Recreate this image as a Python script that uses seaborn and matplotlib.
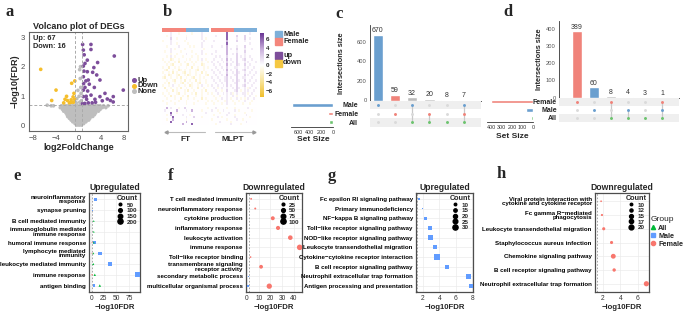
import numpy as np
import pandas as pd
import matplotlib
matplotlib.use('Agg')
import matplotlib.pyplot as plt
import seaborn as sns
from matplotlib.colors import LinearSegmentedColormap, ListedColormap, Normalize
from matplotlib.cm import ScalarMappable
from matplotlib.lines import Line2D
from matplotlib.patches import Rectangle

sns.set_theme(style='white')
plt.rcParams['font.family'] = ['Liberation Sans', 'DejaVu Sans']
plt.rcParams['axes.unicode_minus'] = True

# ---------------- data ----------------
# a: volcano
up_x = [0.73, 2.19, 0.85, 2.19, 3.36, 6.29, 1.14, 1.55, 2.49, 0.85, 3.77, 1.72, 1.90, 1.14, 2.78,
        1.61, 7.87, 4.65, 3.77, 5.06, 6.11, 2.89, 1.43, 1.72, 4.18, 0.85, 0.85, 0.90, 6.10, 5.60,
        2.20, 1.30, 0.85, 1.55, 1.00, 2.70, 3.20, 0.70, 1.10, 2.40, 3.00, 0.95, 1.35]
up_y = [2.75, 2.75, 2.56, 2.58, 2.14, 2.36, 2.11, 1.83, 1.81, 1.66, 1.55, 1.55, 1.41, 1.30, 1.30,
        1.18, 1.21, 1.10, 0.99, 0.91, 0.99, 0.90, 0.90, 0.78, 0.85, 0.99, 1.21, 1.43, 0.81, 0.86,
        1.04, 1.52, 2.02, 2.22, 2.40, 1.97, 1.72, 0.75, 0.76, 0.78, 0.80, 1.85, 1.00]
down_x = [-6.64, -1.20, -0.65, -3.95, -4.71, -2.37, -2.10, -1.95, -1.30, -0.95, -1.25, -0.90,
          -0.70, -1.60, -0.80, -2.60]
down_y = [1.91, 1.44, 1.52, 1.21, 0.86, 0.90, 1.00, 0.86, 0.88, 0.98, 0.80, 0.80, 0.90, 0.78,
          1.10, 0.78]
none_levels = [0.68, 0.62, 0.56, 0.50, 0.44, 0.38, 0.32, 0.26, 0.20, 0.14, 0.08, 0.03]
none_rows = [
    [-4.8, -4.4, -3.0, -2.6, -2.2, -1.8, -1.4, -1.0, -0.6, -0.2, 0.2, 0.6, 1.0, 1.4, 1.8, 2.2, 2.6, 3.0, 3.4, 3.8, 4.4, 5.2],
    [-3.2, -2.8, -2.4, -2.0, -1.6, -1.2, -0.8, -0.4, 0.0, 0.4, 0.8, 1.2, 1.6, 2.0, 2.4, 2.8, 3.2, 3.6, 4.2, 4.8],
    [-2.8, -2.4, -2.0, -1.6, -1.2, -0.8, -0.4, 0.0, 0.4, 0.8, 1.2, 1.6, 2.0, 2.4, 2.8, 3.2, 3.8],
    [-2.6, -2.2, -1.8, -1.4, -1.0, -0.6, -0.2, 0.2, 0.6, 1.0, 1.4, 1.8, 2.2, 2.6, 3.0, 3.5],
    [-2.2, -1.8, -1.4, -1.0, -0.6, -0.2, 0.2, 0.6, 1.0, 1.4, 1.8, 2.2, 2.6, 3.0],
    [-2.0, -1.6, -1.2, -0.8, -0.4, 0.0, 0.4, 0.8, 1.2, 1.6, 2.0, 2.4, 2.8],
    [-1.9, -1.5, -1.1, -0.7, -0.3, 0.1, 0.5, 0.9, 1.3, 1.7, 2.1, 2.5],
    [-1.6, -1.2, -0.8, -0.4, 0.0, 0.4, 0.8, 1.2, 1.6, 2.0],
    [-1.3, -0.9, -0.5, -0.1, 0.3, 0.7, 1.1, 1.5, 1.8],
    [-1.0, -0.6, -0.2, 0.2, 0.6, 1.0, 1.3],
    [-0.6, -0.2, 0.2, 0.6, 0.9],
    [-0.3, 0.1, 0.5],
]
none_extra_x = [0.30, 0.20, 0.40, 0.45, 0.10, -0.30, 0.50, 0.20, -0.40, 0.35, -5.5, -0.1]
none_extra_y = [1.60, 1.90, 1.30, 1.10, 1.00, 0.92, 0.85, 0.80, 0.78, 2.00, 0.70, 1.2]

# b: heatmap (character-coded values)
heat_codes = {'.': 0, 'a': -0.8, 'b': -1.8, 'c': -3.0, 'd': 0.9, 'e': 2.0, 'f': 3.5, 'g': 6.0}
ft_top = [
    "....d...a......a....d...", "..a.d.......a.......d...", "....e..a....d.......d.a.",
    "a...d......a.........d..", "....d..a.....a......d...", "..a.....d.....a.a...d...",
    "....d.a....a.........a..", ".a..d....a.....a....d...", "....a..a....d....a..d.a.",
    "..a.d.a...a....a..a.....", "a...ba..a...a.a...a.d.a.", ".a.a..a.b..a...a.a..a..a",
    "..a.ab...a..ab..a...ba..", "a..b..a.a...a..b..a..a.a", ".ab..a..ba.a..a..ab..a..",
    "a..a.b.a..ab..a..a..b.a.", ".a.ba..ab..a.ba..a.a..ab", "ab..a..a.b..a..ab..a.a..",
    "..a..ab..a.b..a..b.a..a.", ".a.b..a..ab..a.a..ab..a.", "a..a.d..a..a..ba..a.d..a",
    ".b..a..a.b..a..a..b..a..", "..a..b.a...a.b..a...a.b.", "a..a...ab..a...a.b..a..a",
    ".a..b.a...a..b...a..a...", "..a...a..b...a..a...b.a.", "a...a...a...a.....a....a",
    "..a...a.....a...a.....a.",
]
mlpt_top = [
    "........g...........d...", "..d.....g....e...e......", "........g....d...e..d...",
    ".d......f....e...d......", "........g...........d...", "d....d..f....d...e......",
    "........f.d..e...d...d..", "..d.....f....d...e......", "d.......f..d.e...d......",
    "..d.d...e....e.d.d..d...", ".d...d..f.d..e..de...d..", "d..d..d.e..d.e...d.d...d",
    ".d..d...f.d..ed..e..d...", "..d..d..e...dd...d.d..d.", "d..d..d.f.d..e..de...d..",
    ".d..d...e..d.ed..d..d..d", "..d..d..f...de...e.d..d.", "d..d...de.d..e..dd...d..",
    ".d..d..de..d.ed..e..d..d", "..d..d..e...de...d.d..d.", "d..d..d.e.d..e..de...d..",
    ".d.a.d..d..d.ed..d.ad..d", "..d..a..e...de.a.d.d..d.", "a..d..d.d.da.d..dd.a.d..",
    ".a..a...d..d.a...d..d..a", "..a..d..d.a..d.a.a.d..d.", "a..a...ad..a..a..d...a..",
    ".a...a..d...a...a...a...",
]
ft_bottom = [
    "..f.d...a..e...........a", ".d.....f....d..f....a...", "....g..a..............d.",
    "..a.f.....d...a.........", ".....g......d...e...a...", "..a..f......a...........",
    "....g.......f...........", "..........f....g........",
]
mlpt_bottom = [
    "..d.....a...a......d....", "d..a..d.....d.a......a..", "....a....d.......a......",
    ".a......d...a.....d.....", "...d.a......d.......a...", "a.......a....d..a.......",
    "....d.....a.......d.....", "..a.......d....a........",
]
heat_sex = ['Female'] * 12 + ['Male'] * 12

# c, d: UpSet
c_sets = ['Male', 'Female', 'All']
c_members = [['Male'], ['Female'], ['Male', 'All'], ['Female', 'All'], ['All'], ['Male', 'Female', 'All']]
c_sizes = [670, 59, 32, 20, 8, 7]
d_sets = ['Female', 'Male', 'All']
d_members = [['Female'], ['Male'], ['Female', 'All'], ['Male', 'All'], ['All'], ['Female', 'Male', 'All']]
d_sizes = [389, 60, 8, 4, 3, 1]

# e-h: enrichment dot plots
e_terms = ["neuroinflammatory\nresponse", "synapse pruning", "B cell mediated immunity",
           "immunoglobulin mediated\nimmune response", "humoral immune response",
           "lymphocyte mediated\nimmunity", "leukocyte mediated immunity", "immune response",
           "antigen binding"]
e_term_idx = [0, 1, 2, 3, 4, 4, 4, 5, 5, 5, 6, 6, 7, 7, 7, 8, 8]
e_group = ['Male', 'Male', 'All', 'All', 'Male', 'All', 'Female', 'Male', 'All', 'Female', 'Male',
           'All', 'Male', 'All', 'Female', 'Male', 'All']
e_fdr = [9, 2, 5, 5, 7, 5, 1.5, 17, 4, 1.5, 37, 4, 92, 7, 1.5, 5, 17]
e_count = [50, 10, 20, 20, 60, 25, 5, 90, 25, 5, 120, 30, 200, 40, 10, 40, 45]

f_terms = ["T cell mediated immunity", "neuroinflammatory response", "cytokine production",
           "inflammatory response", "leukocyte activation", "immune response",
           "Toll\u2212like receptor binding", "transmembrane signaling\nreceptor activity",
           "secondary metabolic process", "multicellular organismal process"]
f_term_idx = [0, 1, 2, 3, 4, 5, 6, 7, 8, 9, 9]
f_group = ['Female'] * 8 + ['Male', 'Female', 'Male']
f_fdr = [3.5, 7, 22, 26.5, 37, 45, 3, 12, 1, 19, 1]
f_count = [10, 12, 55, 60, 75, 110, 8, 50, 5, 100, 20]

g_terms = ["Fc epsilon RI signaling pathway", "Primary immunodeficiency",
           "NF\u2212kappa B signaling pathway", "Toll\u2212like receptor signaling pathway",
           "NOD\u2212like receptor signaling pathway", "Leukocyte transendothelial migration",
           "Cytokine\u2212cytokine receptor interaction", "B cell receptor signaling pathway",
           "Neutrophil extracellular trap formation", "Antigen processing and presentation"]
g_term_idx = list(range(10))
g_group = ['Male'] * 10
g_fdr = [1.5, 1.95, 2.3, 2.9, 2.9, 3.5, 3.7, 4.9, 7.5, 7.9]
g_count = [10, 6, 15, 18, 22, 18, 30, 16, 28, 22]

h_terms = ["Viral protein interaction with\ncytokine and cytokine receptor",
           "Fc gamma R\u2212mediated\nphagocytosis", "Leukocyte transendothelial migration",
           "Staphylococcus aureus infection", "Chemokine signaling pathway",
           "B cell receptor signaling pathway", "Neutrophil extracellular trap formation"]
h_term_idx = list(range(7))
h_group = ['Female'] * 7
h_fdr = [1.8, 1.9, 2.1, 3.0, 3.2, 3.3, 7.0]
h_count = [8, 9, 12, 12, 20, 13, 22]

# ---------------- styling ----------------
W, H = 685, 311
fig = plt.figure(figsize=(W / 100, H / 100), dpi=100)

C_UP, C_DOWN, C_NONE = '#7D4E9B', '#F5BE2C', '#BEBEBE'
C_FEM_ANN, C_MALE_ANN = '#F4867C', '#7DAFD9'
U_BLUE, U_SALMON, U_GREEN, U_GRAY = '#6A9FCF', '#F0837A', '#6CC36E', '#BDBDBD'
G_COLORS = {'All': '#00BA38', 'Male': '#619CFF', 'Female': '#F8766D'}
G_MARKERS = {'All': '^', 'Male': 's', 'Female': 'o'}


def ax_px(x0, y0, x1, y1):
    return fig.add_axes([x0 / W, 1 - y1 / H, (x1 - x0) / W, (y1 - y0) / H])


def ftext(x, y, s, **kw):
    fig.text(x / W, 1 - y / H, s, **kw)


for lab, (x, y) in zip('abcdefgh', [(5, 12), (163, 12), (335, 14), (503, 12),
                                     (13, 176), (168, 176), (328, 176), (497, 174)]):
    ftext(x, y, lab, fontsize=12, fontweight='bold', family='Liberation Serif', va='center')

# ---------------- a: volcano ----------------
nx, ny = [], []
for lv, row in zip(none_levels, none_rows):
    nx += row
    ny += [lv] * len(row)
nx += none_extra_x
ny += none_extra_y
vdf = pd.concat([
    pd.DataFrame({'lfc': nx, 'fdr': ny, 'Sig': 'None'}),
    pd.DataFrame({'lfc': down_x, 'fdr': down_y, 'Sig': 'Down'}),
    pd.DataFrame({'lfc': up_x, 'fdr': up_y, 'Sig': 'Up'}),
], ignore_index=True)
axa = ax_px(29, 32, 128, 131)
sns.scatterplot(data=vdf, x='lfc', y='fdr', hue='Sig',
                palette={'Up': C_UP, 'Down': C_DOWN, 'None': C_NONE},
                s=7, linewidth=0, legend=False, ax=axa)
axa.axhline(0.699, color='#AAAAAA', ls=(0, (3, 2)), lw=0.7)
axa.axvline(-0.585, color='#AAAAAA', ls=(0, (3, 2)), lw=0.7)
axa.axvline(0.585, color='#AAAAAA', ls=(0, (3, 2)), lw=0.7)
axa.set_xlim(-8.7, 8.7)
axa.set_ylim(-0.17, 3.17)
axa.set_xticks([-8, -4, 0, 4, 8])
axa.set_yticks([0, 1, 2, 3])
axa.tick_params(labelsize=5.5, length=2, pad=1, colors='#4D4D4D', width=0.6)
for s in axa.spines.values():
    s.set_color('#666666'); s.set_linewidth(0.8)
axa.set_xlabel('log2FoldChange', fontsize=6.5, fontweight='bold', labelpad=0.5)
axa.set_ylabel('\u2212log10(FDR)', fontsize=6.5, fontweight='bold', labelpad=1)
axa.set_title('Volcano plot of DEGs', fontsize=6.5, fontweight='bold', pad=2.5)
axa.text(0.04, 0.93, 'Up: 67', transform=axa.transAxes, fontsize=5.3, fontweight='bold', va='center')
axa.text(0.04, 0.85, 'Down: 16', transform=axa.transAxes, fontsize=5.3, fontweight='bold', va='center')
for i, (lab, col) in enumerate([('Up', C_UP), ('Down', C_DOWN), ('None', C_NONE)]):
    yy = 80 + i * 5.6
    fig.add_artist(Line2D([134 / W], [1 - yy / H], marker='o', color=col, ms=2.6, lw=0))
    ftext(138, yy, lab, fontsize=5.5, fontweight='bold', va='center')

# ---------------- b: heatmap ----------------
cmap_h = LinearSegmentedColormap.from_list('yp', ['#F0BE2A', '#F8E49A', '#FFFFFF', '#C9AEDB', '#6A3594'])


def decode(rows):
    return pd.DataFrame([[heat_codes[ch] for ch in r.ljust(24, '.')[:24]] for r in rows])


for mat, rect in [(ft_top, (162, 32, 209, 105)), (mlpt_top, (211, 32, 257, 105)),
                  (ft_bottom, (162, 107, 209, 125)), (mlpt_bottom, (211, 107, 257, 125))]:
    axh = ax_px(*rect)
    sns.heatmap(decode(mat), cmap=cmap_h, vmin=-7.5, vmax=7.5, cbar=False,
                xticklabels=False, yticklabels=False, ax=axh)
for rect in [(162, 28, 209, 32), (211, 28, 257, 32)]:
    axn = ax_px(*rect)
    codes = pd.DataFrame([[0 if s == 'Female' else 1 for s in heat_sex]])
    sns.heatmap(codes, cmap=ListedColormap([C_FEM_ANN, C_MALE_ANN]), vmin=0, vmax=1,
                cbar=False, xticklabels=False, yticklabels=False, ax=axn)
cax = ax_px(260, 33, 264, 97)
cb = fig.colorbar(ScalarMappable(norm=Normalize(-7.5, 7.5), cmap=cmap_h), cax=cax)
cb.set_ticks([6, 4, 2, 0, -2, -4, -6])
cb.ax.tick_params(labelsize=4.5, length=0, pad=1.5)
cb.set_ticklabels(['6', '4', '2', '0', '\u22122', '\u22124', '\u22126'], fontweight='bold')
cb.outline.set_visible(False)
for yy, lab, col in [(34, 'Male', C_MALE_ANN), (41.5, 'Female', C_FEM_ANN),
                     (55.5, 'up', '#7D4E9B'), (63, 'down', '#F5C842')]:
    fig.add_artist(Rectangle((275 / W, 1 - (yy + 3.5) / H), 6.5 / W, 7 / H, color=col))
    ftext(283, yy, lab, fontsize=5.3, fontweight='bold', va='center')
fig.add_artist(Line2D([166 / W, 205 / W], [1 - 132 / H] * 2, color='#BBBBBB', lw=0.8))
fig.add_artist(Line2D([166 / W], [1 - 132 / H], marker='<', color='#999999', ms=2.2, lw=0))
fig.add_artist(Line2D([215 / W, 254 / W], [1 - 132 / H] * 2, color='#BBBBBB', lw=0.8))
fig.add_artist(Line2D([254 / W], [1 - 132 / H], marker='>', color='#999999', ms=2.2, lw=0))
ftext(186, 140, 'FT', fontsize=6, fontweight='bold', ha='center', va='center')
ftext(233, 140, 'MLPT', fontsize=6, fontweight='bold', ha='center', va='center')


# ---------------- c, d: UpSet ----------------
def upset(sets, members, sizes, set_cols, bar_cols, bar_rect, mat_rect, ss_rect, xlim,
          ylim, yticks, ss_max, ss_ticks, label_pad, ylabel_x, setsize_xy):
    n = len(sizes)
    keys = [f'i{i}' for i in range(n)]
    axb = ax_px(*bar_rect)
    sns.barplot(x=keys, y=sizes, hue=keys, palette=dict(zip(keys, bar_cols)), order=keys,
                width=0.6, legend=False, ax=axb, saturation=1)
    for cont in axb.containers:
        axb.bar_label(cont, fontsize=5, padding=0.3, color='#333333')
    axb.set_xlim(*xlim)
    axb.set_ylim(0, ylim)
    axb.set_yticks(yticks)
    axb.set_xticks([])
    axb.tick_params(axis='y', labelsize=4.2, length=1.5, pad=1, colors='#555555', width=0.5)
    sns.despine(ax=axb)
    for s in ['left', 'bottom']:
        axb.spines[s].set_color('#333333'); axb.spines[s].set_linewidth(0.6)
    axb.set_ylabel('Intersections size', fontsize=5.3, fontweight='bold')
    axb.yaxis.set_label_coords((ylabel_x - bar_rect[0]) / (bar_rect[2] - bar_rect[0]), 0.5)

    axm = ax_px(*mat_rect)
    axm.set_xlim(*xlim)
    axm.set_ylim(len(sets) - 0.5, -0.5)
    for j in range(len(sets)):
        if j % 2 == 0:
            axm.axhspan(j - 0.5, j + 0.5, color='#EFEFEF', lw=0, zorder=0)
    colmap = dict(zip(sets, set_cols))
    for i, mem in enumerate(members):
        rows = [sets.index(m) for m in mem]
        if len(rows) > 1:
            axm.plot([i, i], [min(rows), max(rows)], color='#C8C8C8', lw=0.9, zorder=1)
        for j, st in enumerate(sets):
            axm.scatter([i], [j], s=4.5, color=colmap[st] if st in mem else '#DADADA',
                        lw=0, zorder=2)
    axm.set_xticks([])
    axm.set_yticks(range(len(sets)))
    axm.set_yticklabels(sets, fontsize=5.0, fontweight='bold')
    axm.tick_params(axis='y', length=0, pad=label_pad)
    for s in axm.spines.values():
        s.set_visible(False)

    set_sizes = [sum(sz for sz, mem in zip(sizes, members) if st in mem) for st in sets]
    axs = ax_px(*ss_rect)
    sns.barplot(x=set_sizes, y=sets, hue=sets, palette=colmap, order=sets, orient='h',
                width=0.45, legend=False, ax=axs, saturation=1)
    axs.set_xlim(ss_max, 0)
    axs.set_ylim(len(sets) - 0.5, -0.5)
    axs.set_xticks(ss_ticks)
    axs.set_yticks([])
    axs.set_ylabel('')
    axs.tick_params(axis='x', labelsize=3.9, length=1.5, pad=1, colors='#333333', width=0.5)
    sns.despine(ax=axs, left=True)
    axs.spines['bottom'].set_color('#333333'); axs.spines['bottom'].set_linewidth(0.6)
    ftext(setsize_xy[0], setsize_xy[1], 'Set Size', fontsize=6, fontweight='bold',
          ha='center', va='center')


upset(c_sets, c_members, c_sizes, [U_BLUE, U_SALMON, U_GREEN],
      [U_BLUE, U_SALMON, U_GRAY, U_GRAY, U_GREEN, U_GRAY],
      (370, 25, 481, 100.5), (370, 100.5, 481, 126.5), (291, 100.5, 333, 126.5),
      (-0.45, 6.0), 770, [0, 200, 400, 600], 720, [600, 400, 200, 0], 8.5, 345, (313, 140))
upset(d_sets, d_members, d_sizes, [U_SALMON, U_BLUE, U_GREEN],
      [U_SALMON, U_BLUE, U_GRAY, U_GRAY, U_GREEN, U_GRAY],
      (559, 21, 679, 97.5), (559, 97.5, 679, 122), (487, 97.5, 533, 122),
      (-1.04, 6.0), 447, [0, 100, 200, 300, 400], 440, [400, 300, 200, 100, 0], 1.5, 543,
      (512, 137))


# ---------------- e-h: enrichment ----------------
def dotpanel(rect, terms, idx, groups, fdr, counts, title, xlim, xticks, norm, sizes, leg_counts):
    n = len(terms)
    ax = ax_px(*rect)
    df = pd.DataFrame({'pos': [n - 1 - i for i in idx], 'fdr': fdr, 'Group': groups, 'Count': counts})
    ax.set_axisbelow(True)
    sns.scatterplot(data=df, x='fdr', y='pos', hue='Group', style='Group', size='Count',
                    palette=G_COLORS, markers=G_MARKERS, sizes=sizes, size_norm=norm,
                    linewidth=0, legend=False, ax=ax, zorder=3)
    ax.axvline(1.3, color='#9A9A9A', ls=(0, (2, 2)), lw=0.6, zorder=2)
    ax.set_xlim(*xlim)
    ax.set_ylim(-0.6, n - 0.4)
    ax.set_xticks(xticks)
    ax.set_yticks(range(n))
    ax.set_yticklabels(terms[::-1], fontsize=4.4, fontweight='bold', linespacing=0.82)
    ax.grid(True, color='#EBEBEB', lw=0.5)
    ax.tick_params(axis='both', length=1.5, pad=0.8, width=0.5, colors='#333333')
    ax.tick_params(axis='x', labelsize=4.8)
    for lbl in ax.get_yticklabels():
        lbl.set_color('black')
    for s in ax.spines.values():
        s.set_color('#4D4D4D'); s.set_linewidth(0.9)
    ax.set_xlabel('\u2212log10FDR', fontsize=5.6, fontweight='bold', labelpad=1)
    ax.set_ylabel('')
    ax.set_title(title, fontsize=6.2, fontweight='bold', pad=2)
    handles = []
    for c in leg_counts:
        sarea = sizes[0] + (sizes[1] - sizes[0]) * (c - norm[0]) / (norm[1] - norm[0])
        handles.append(Line2D([], [], marker='o', color='black', lw=0, ms=np.sqrt(max(sarea, 0.3))))
    leg = ax.legend(handles, [str(c) for c in leg_counts], title='Count', loc='upper right',
                    frameon=False, fontsize=4.5, title_fontsize=5.2, handlelength=0.8,
                    handletextpad=0.6, labelspacing=0.05, borderaxespad=0.2, borderpad=0.1)
    leg.get_title().set_fontweight('bold')
    for t in leg.get_texts():
        t.set_fontweight('bold')
    return ax


dotpanel((89, 193, 140, 292), e_terms, e_term_idx, e_group, e_fdr, e_count, 'Upregulated',
         (-4.5, 97), [0, 25, 50, 75], (5, 200), (0.5, 14), [50, 100, 150, 200])
dotpanel((246, 193, 302, 292), f_terms, f_term_idx, f_group, f_fdr, f_count, 'Downregulated',
         (-0.9, 47), [0, 10, 20, 30, 40], (5, 110), (1, 16), [25, 50, 75, 100])
dotpanel((416, 193, 473, 292), g_terms, g_term_idx, g_group, g_fdr, g_count, 'Upregulated',
         (1.15, 8.1), [2, 4, 6, 8], (5, 30), (0.6, 14), [10, 15, 20, 25, 30])
dotpanel((595, 193, 649, 292), h_terms, h_term_idx, h_group, h_fdr, h_count, 'Downregulated',
         (1.1, 7.3), [2, 4, 6], (8, 22), (1.5, 14), [10, 12, 15, 17, 20])

ghandles = [Line2D([], [], marker=G_MARKERS[g], color=G_COLORS[g], lw=0, ms=3) for g in ['All', 'Male', 'Female']]
gleg = fig.legend(ghandles, ['All', 'Male', 'Female'], title='Group',
                  loc='upper left', bbox_to_anchor=(649 / W, 1 - 215 / H), frameon=False,
                  fontsize=5.2, title_fontsize=6, handlelength=0.7, handletextpad=0.35,
                  labelspacing=0.15, borderpad=0.1, borderaxespad=0.1)
for t in gleg.get_texts():
    t.set_fontweight('bold')
gleg._legend_box.align = 'left'

fig.savefig('out.png', dpi=100)
